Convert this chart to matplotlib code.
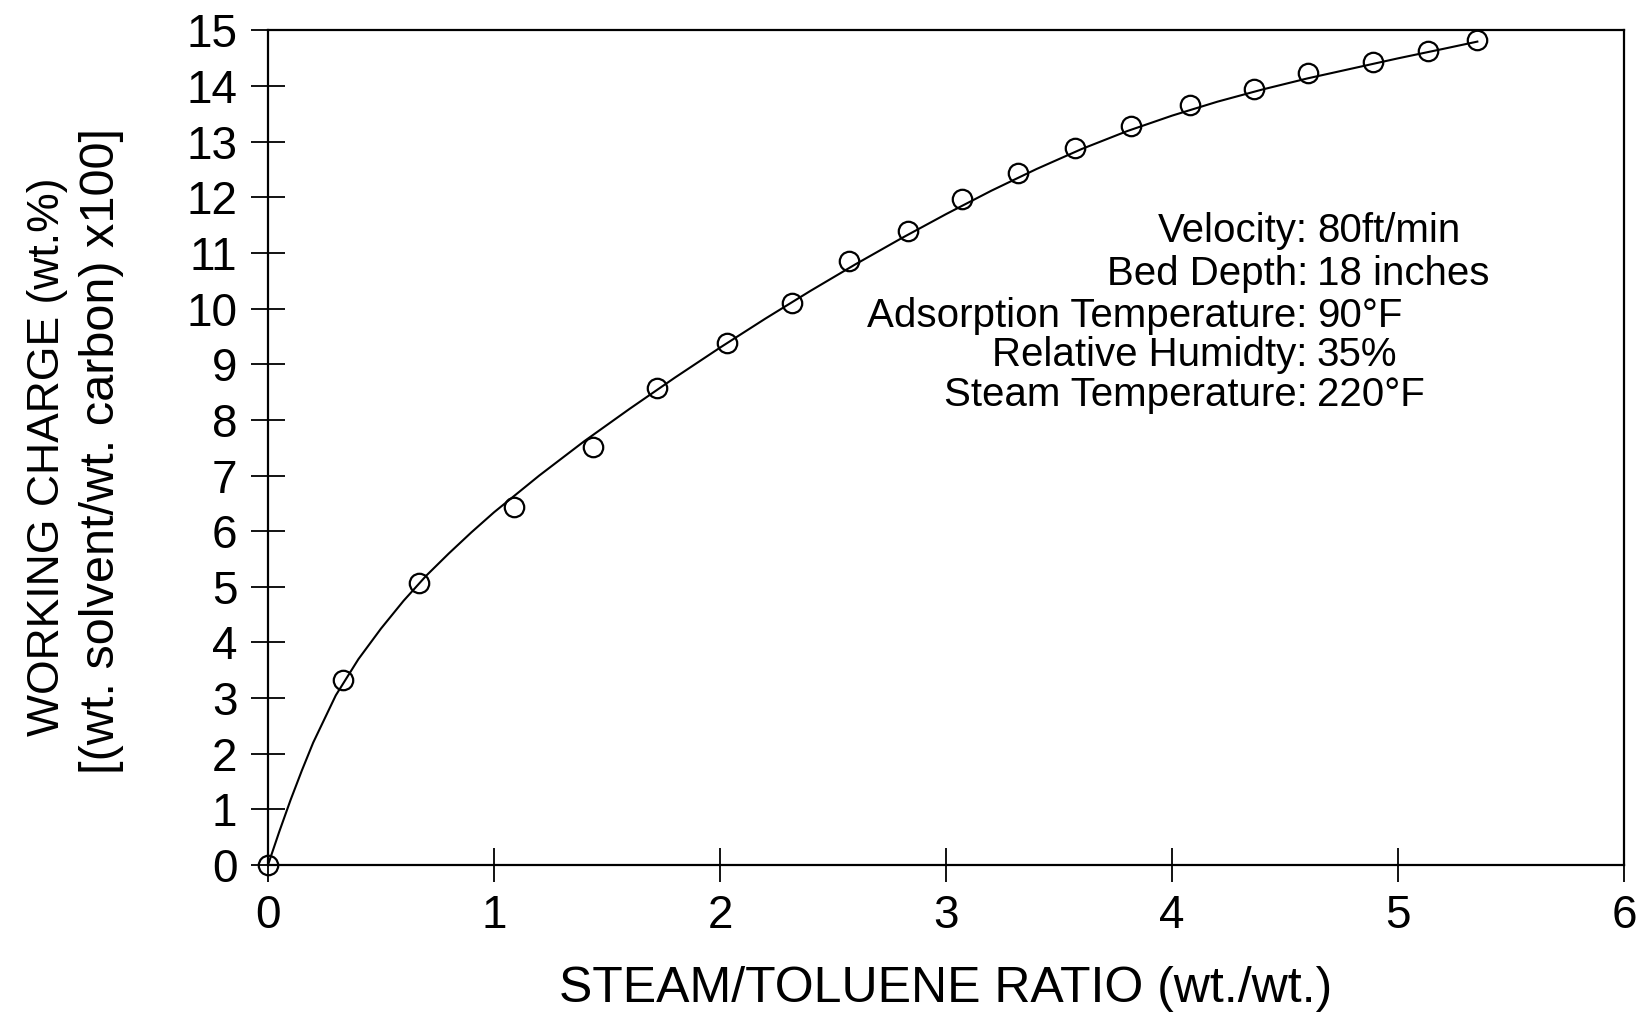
import matplotlib
matplotlib.use('Agg')
import matplotlib.pyplot as plt

# measured points (steam/toluene ratio, working charge)
ratio  = [0.0, 0.33, 0.67, 1.09, 1.44, 1.72, 2.03, 2.32, 2.57, 2.83,
          3.07, 3.32, 3.57, 3.82, 4.08, 4.36, 4.60, 4.89, 5.13, 5.35]
charge = [0.0, 3.32, 5.07, 6.43, 7.52, 8.57, 9.38, 10.10, 10.85, 11.40,
          11.97, 12.44, 12.89, 13.28, 13.66, 13.94, 14.23, 14.43, 14.64, 14.83]

# fitted curve
fit_x = [0.0, 0.05, 0.1, 0.15, 0.2, 0.3, 0.4, 0.5, 0.6, 0.7, 0.8, 0.9, 1.0,
         1.2, 1.4, 1.6, 1.8, 2.0, 2.2, 2.4, 2.6, 2.8, 3.0, 3.2, 3.4, 3.6,
         3.8, 4.0, 4.2, 4.4, 4.6, 4.8, 5.0, 5.2, 5.35]
fit_y = [0.0, 0.6, 1.17, 1.7, 2.2, 3.05, 3.7, 4.25, 4.75, 5.2, 5.6, 5.98, 6.34,
         7.0, 7.62, 8.2, 8.76, 9.3, 9.82, 10.32, 10.8, 11.26, 11.7, 12.12, 12.51, 12.87,
         13.19, 13.47, 13.72, 13.94, 14.14, 14.32, 14.5, 14.67, 14.8]

conds = [('Velocity:', '80ft/min'),
         ('Bed Depth:', '18 inches'),
         ('Adsorption Temperature:', '90°F'),
         ('Relative Humidty:', '35%'),
         ('Steam Temperature:', '220°F')]
cond_y = [11.40, 10.63, 9.87, 9.16, 8.44]

plt.rcParams['font.family'] = ['Liberation Sans', 'DejaVu Sans']

fig = plt.figure(figsize=(16.44, 10.16), dpi=100)
ax = fig.add_axes([0.163, 0.1486, 0.825, 0.8214])

ax.plot(fit_x, fit_y, color='k', lw=1.5)
ax.plot(ratio, charge, 'o', mfc='none', mec='k', ms=14, mew=1.6,
        clip_on=False, zorder=3)

ax.set_xlim(0, 6)
ax.set_ylim(0, 15)
ax.set_xticks(range(0, 7))
ax.set_yticks(range(0, 16))
ax.tick_params(direction='inout', length=24, width=1.3, labelsize=33)
ax.tick_params(axis='y', pad=10)
ax.tick_params(axis='x', pad=9)
for s in ax.spines.values():
    s.set_linewidth(1.6)

# axis titles placed as figure text to match the original spacing
fig.text(0.575, 0.027, 'STEAM/TOLUENE RATIO (wt./wt.)', fontsize=36,
         ha='center', va='center')
fig.text(0.029, 0.55, 'WORKING CHARGE (wt.%)', fontsize=32,
         rotation=90, ha='center', va='center')
fig.text(0.062, 0.556, '[(wt. solvent/wt. carbon) x100]', fontsize=35,
         rotation=90, ha='center', va='center')

for (lab, val), y in zip(conds, cond_y):
    ax.text(4.60, y, lab, ha='right', va='center', fontsize=29)
    ax.text(4.64, y, val, ha='left', va='center', fontsize=29)

fig.savefig('out.png', dpi=100)
